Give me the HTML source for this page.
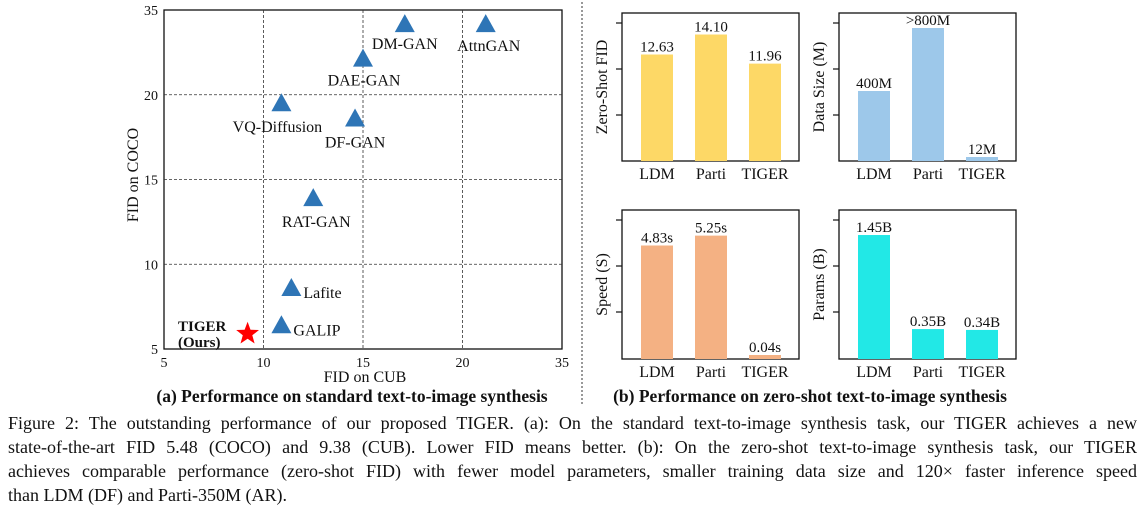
<!DOCTYPE html>
<html><head><meta charset="utf-8"><style>
html,body{margin:0;padding:0;background:#fff;width:1145px;height:511px;overflow:hidden}
svg{position:absolute;left:0;top:0}
text{font-family:"Liberation Serif",serif;fill:#111}
.cap{position:absolute;left:8px;width:1129px;font-family:"Liberation Serif",serif;font-size:18px;line-height:20px;color:#111;text-align:justify;text-align-last:justify;white-space:nowrap}
</style></head><body>
<svg id="fig" width="1145" height="511"></svg>
<div class="cap" style="top:413px">Figure 2: The outstanding performance of our proposed TIGER. (a): On the standard text-to-image synthesis task, our TIGER achieves a new</div>
<div class="cap" style="top:437px">state-of-the-art FID 5.48 (COCO) and 9.38 (CUB). Lower FID means better. (b): On the zero-shot text-to-image synthesis task, our TIGER</div>
<div class="cap" style="top:461px">achieves comparable performance (zero-shot FID) with fewer model parameters, smaller training data size and 120× faster inference speed</div>
<div class="cap" style="top:485px;text-align-last:left">than LDM (DF) and Parti-350M (AR).</div>
<script>
const xTicks=[5,10,15,20,35];
const yTicks=[5,10,15,20,35];
const models=["AttnGAN","DM-GAN","DAE-GAN","VQ-Diffusion","DF-GAN","RAT-GAN","Lafite","GALIP"];
const cubFID=[23.5,17.1,15.0,10.9,14.6,12.5,11.4,10.9];
const cocoFID=[32.5,32.5,26.4,19.5,18.6,13.9,8.6,6.4];
const tigerCub=9.2, tigerCoco=5.9;
const barCats=["LDM","Parti","TIGER"];
const fidVals=[12.63,14.10,11.96];
const fidLabels=["12.63","14.10","11.96"];
const dataVals=[400,760,12];
const dataLabels=["400M",">800M","12M"];
const speedVals=[4.83,5.25,0.04];
const speedLabels=["4.83s","5.25s","0.04s"];
const paramVals=[1.45,0.35,0.34];
const paramLabels=["1.45B","0.35B","0.34B"];

const NS="http://www.w3.org/2000/svg";
const svg=document.getElementById('fig');
function mk(tag,attrs,parent){const e=document.createElementNS(NS,tag);for(const k in attrs)e.setAttribute(k,attrs[k]);(parent||svg).appendChild(e);return e;}
function txt(s,attrs){const e=mk('text',attrs);e.textContent=s;return e;}

const PX0=164,PX1=562,PY0=349,PY1=10;
function pw(v,ticks,a,b){const n=ticks.length-1;for(let i=0;i<n;i++){if(v<=ticks[i+1]||i==n-1){const f=(v-ticks[i])/(ticks[i+1]-ticks[i]);return a+(b-a)*(i+f)/n;}}}
const sx=v=>pw(v,xTicks,PX0,PX1), sy=v=>pw(v,yTicks,PY0,PY1);

let g=mk('rect',{x:PX0,y:PY1,width:PX1-PX0,height:PY0-PY1,fill:'none',stroke:'#111','stroke-width':1.3});


xTicks.forEach((t,i)=>{const x=sx(t);
  if(i>0&&i<xTicks.length-1){const l=mk('line',{x1:x,x2:x,y1:PY1,y2:PY0,stroke:'#333','stroke-dasharray':'3,2','stroke-width':0.8});
  
  }
  const e=txt(String(t),{x:x,y:PY0+18,'text-anchor':'middle','font-size':14});
  
  
});
yTicks.forEach((t,i)=>{const y=sy(t);
  if(i>0&&i<yTicks.length-1){const l=mk('line',{x1:PX0,x2:PX1,y1:y,y2:y,stroke:'#333','stroke-dasharray':'3,2','stroke-width':0.8});
  
  }
  const e=txt(String(t),{x:PX0-6,y:y+5,'text-anchor':'end','font-size':14});
  
  
});
g=txt("FID on CUB",{x:365,y:382,'text-anchor':'middle','font-size':16});


g=txt("FID on COCO",{x:0,y:0,'text-anchor':'middle','font-size':16,transform:'translate(138,175) rotate(-90)'});



const lblOff={"AttnGAN":[3,22,'middle'],"DM-GAN":[0,20,'middle'],"DAE-GAN":[1,22,'middle'],"VQ-Diffusion":[-4,24,'middle'],"DF-GAN":[0,24,'middle'],"RAT-GAN":[3,24,'middle'],"Lafite":[12,5,'start'],"GALIP":[12,5,'start']};
models.forEach((m,i)=>{const x=sx(cubFID[i]),y=sy(cocoFID[i]);
  const p=mk('polygon',{points:`${x},${y-10} ${x+10},${y+8} ${x-10},${y+8}`,fill:'#2e75b6'});
  
  
  const o=lblOff[m];
  const t=txt(m,{x:x+o[0],y:y+o[1]+5,'text-anchor':o[2],'font-size':16});
  
  
});
(function(){const cx=sx(tigerCub),cy=sy(tigerCoco),R=12,r=5;let pts=[];
 for(let k=0;k<10;k++){const a=-Math.PI/2+k*Math.PI/5,rr=k%2?r:R;pts.push((cx+rr*Math.cos(a)).toFixed(1)+','+(cy+rr*Math.sin(a)).toFixed(1));}
 const s=mk('polygon',{points:pts.join(' '),fill:'#ff0000'});
 
 
 let t=txt("TIGER",{x:178,y:331,'font-size':15,'font-weight':'bold'});
 
 
 t=txt("(Ours)",{x:178,y:347,'font-size':15,'font-weight':'bold'});
 
 
})();

g=mk('line',{x1:582,x2:582,y1:2,y2:404,stroke:'#333','stroke-dasharray':'2,2','stroke-width':1});



function bars(name,x0,y0,y1,vals,labels,k,color,title){
  const x1=x0+177;
  const f=mk('rect',{x:x0,y:y0,width:x1-x0,height:y1-y0,fill:'none',stroke:'#111','stroke-width':1.3});
  
  
  for(let i=0;i<3;i++){const yy=y0+10+i*46;const l=mk('line',{x1:x0-6,x2:x0,y1:yy,y2:yy,stroke:'#111','stroke-width':1.2});
    
    }
  vals.forEach((v,i)=>{const cx=x0+35+i*54;const h=Math.max(4,v*k);
    const r=mk('rect',{x:cx-16,y:y1-h,width:32,height:h,fill:color});
    
    
    const t=txt(labels[i],{x:cx,y:y1-h-3,'text-anchor':'middle','font-size':15});
    
    
    const c=txt(barCats[i],{x:cx,y:y1+18,'text-anchor':'middle','font-size':16});
    
    
  });
  const yt=txt(title,{x:0,y:0,'text-anchor':'middle','font-size':16,transform:`translate(${x0-15},${(y0+y1)/2}) rotate(-90)`});
  
  
}
(function(){const base=4.8,k=13.6;
  bars('fid-chart',622,13,161,fidVals.map(v=>v-base),fidLabels,k,'#fdd866','Zero-Shot FID');})();
bars('data-size-chart',839,13,161,dataVals,dataLabels,0.175,'#9dc8ea','Data Size (M)');
bars('speed-chart',622,210,359,speedVals,speedLabels,23.5,'#f4b183','Speed (S)');
bars('params-chart',839,210,359,paramVals,paramLabels,85.5,'#22e8e6','Params (B)');

g=txt("(a) Performance on standard text-to-image synthesis",{x:352,y:402,'text-anchor':'middle','font-size':17.5,'font-weight':'bold'});


g=txt("(b) Performance on zero-shot text-to-image synthesis",{x:810,y:402,'text-anchor':'middle','font-size':17.5,'font-weight':'bold'});


</script>
</body></html>
